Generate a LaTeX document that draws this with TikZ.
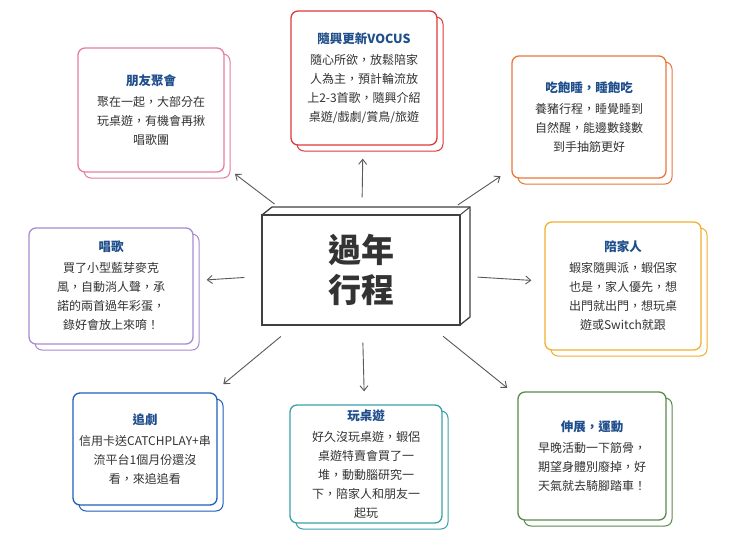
\documentclass[tikz,border=0pt]{standalone}
\usepackage{fontspec}
\newfontfamily\cjk{Noto Sans CJK TC}
\usetikzlibrary{arrows.meta}
\definecolor{ttl}{HTML}{1F4E8C}
\definecolor{txt}{HTML}{333333}
\definecolor{cpink}{HTML}{E57FA0}
\definecolor{cred}{HTML}{E03A3A}
\definecolor{corange}{HTML}{E8773A}
\definecolor{cpurple}{HTML}{A98BD3}
\definecolor{cyellow}{HTML}{F0B030}
\definecolor{cblue}{HTML}{1F5FBF}
\definecolor{cteal}{HTML}{3AA0A8}
\definecolor{cgreen}{HTML}{5A8A4A}
\tikzset{
  card/.style={draw=#1, line width=1.3pt, rounded corners=7pt, fill=white, inner sep=4pt, align=center, text=txt, font=\cjk\fontsize{12}{19}\selectfont},
  cardshadow/.style={draw=#1, line width=1pt, rounded corners=7pt, fill=white},
  conn/.style={draw=black!65, line width=0.9pt, -{Straight Barb[length=5pt,width=8pt]}, shorten <=17pt, shorten >=13pt},
}
\newcommand{\mycard}[8]{%
  \draw[cardshadow=#6] (#2-#4/2+6,#3-#5/2+6) rectangle (#2+#4/2+6,#3+#5/2+6);
  \node[card=#6, minimum width=#4pt, minimum height=#5pt] (#1) at (#2,#3)
    {{\bfseries\color{ttl}\fontsize{12.5}{16}\selectfont #7}\\[2pt] #8};
}
\begin{document}
\begin{tikzpicture}[x=1pt,y=-1pt]
\useasboundingbox (0,0) rectangle (740,555);
\fill[white] (0,0) rectangle (740,555);
% center
\filldraw[fill=white, draw=black!75, line width=1.3pt] (262,215) -- (272,207) -- (470,207) -- (470,317) -- (460,325) -- cycle;
\draw[black!75, line width=1pt] (460,215) -- (470,207);
\node[draw=black!75, line width=1.3pt, fill=white, minimum width=198pt, minimum height=110pt, font=\cjk\bfseries\fontsize{33}{40}\selectfont, text=black!80, align=center] (c) at (361,270) {過年\\行程};
\mycard{n1}{151}{110}{146}{124}{cpink}{朋友聚會}{聚在一起，大部分在\\玩桌遊，有機會再揪\\唱歌團}
\mycard{n2}{364}{78}{146}{134}{cred}{隨興更新VOCUS}{隨心所欲，放鬆陪家\\人為主，預計輪流放\\上2-3首歌，隨興介紹\\桌遊/戲劇/賞鳥/旅遊}
\mycard{n3}{589}{117}{154}{122}{corange}{吃飽睡，睡飽吃}{養豬行程，睡覺睡到\\自然醒，能邊數錢數\\到手抽筋更好}
\mycard{n4}{111}{286}{164}{116}{cpurple}{唱歌}{買了小型藍芽麥克\\風，自動消人聲，承\\諾的兩首過年彩蛋，\\錄好會放上來唷！}
\mycard{n5}{623}{286}{156}{128}{cyellow}{陪家人}{蝦家隨興派，蝦侶家\\也是，家人優先，想\\出門就出門，想玩桌\\遊或Switch就跟}
\mycard{n6}{145}{449}{144}{112}{cblue}{追劇}{信用卡送CATCHPLAY+串\\流平台1個月份還沒\\看，來追追看}
\mycard{n7}{366}{464}{152}{118}{cteal}{玩桌遊}{好久沒玩桌遊，蝦侶\\桌遊特賣會買了一\\堆，動動腦研究一\\下，陪家人和朋友一\\起玩}
\mycard{n8}{592}{456}{148}{128}{cgreen}{伸展，運動}{早晚活動一下筋骨，\\期望身體別廢掉，好\\天氣就去騎腳踏車！}
\foreach \t in {n1,n2,n3,n4,n5,n6,n7,n8} \draw[conn] (c) -- (\t);
\end{tikzpicture}
\end{document}
